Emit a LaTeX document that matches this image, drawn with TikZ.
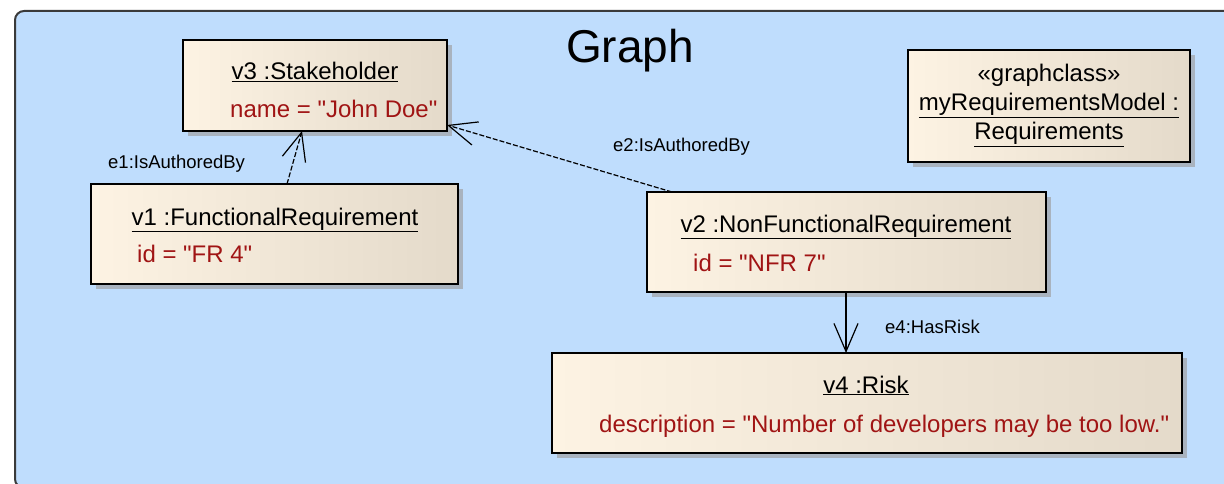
\documentclass[tikz,border=0pt]{standalone}
\usepackage{fontspec}
\setmainfont{Liberation Sans}
% a family without the TeX ligature mapping, so that " stays a straight quote
\newfontfamily\umlfont{Liberation Sans}
\usetikzlibrary{arrows.meta,shadows}

\definecolor{frameblue}{HTML}{BFDDFD}
\definecolor{framegray}{HTML}{3A3A3A}
\definecolor{boxL}{HTML}{FDF3E3}
\definecolor{boxR}{HTML}{E4DACA}
\definecolor{shadowc}{HTML}{A9B3BF}
\definecolor{attrred}{HTML}{A01414}

\tikzset{
  umlbox/.style={draw=black, line width=1.4pt, left color=boxL, right color=boxR,
    shading angle=90, inner sep=0pt, outer sep=0pt, anchor=north west,
    drop shadow={shadow xshift=5pt, shadow yshift=-5pt, fill=shadowc, opacity=1}},
  title/.style={inner sep=0pt, anchor=base, font=\umlfont\fontsize{24}{28}\selectfont},
  attr/.style={inner sep=0pt, anchor=base west, text=attrred, font=\umlfont\fontsize{24}{28}\selectfont},
  elabel/.style={inner sep=0pt, anchor=base west, font=\umlfont\fontsize{18.5}{22}\selectfont},
  link/.style={line width=1.2pt, draw=black,
    -{Straight Barb[length=28pt, width=24pt, line width=1.2pt]}},
  dep/.style={link, dash pattern=on 5pt off 2pt}
}

\begin{document}
\begin{tikzpicture}[x=1pt, y=-1pt]
  \useasboundingbox (0,0) rectangle (1224,484);
  \clip (0,0) rectangle (1224,484);

  % enclosing graph frame
  \draw[fill=frameblue, draw=framegray, line width=2pt, rounded corners=9pt]
    (15,11) rectangle (1260,488);
  \node[inner sep=0pt, anchor=base west, font=\umlfont\fontsize{46}{50}\selectfont] (gtitle) at (566,63) {Graph};

  % vertices
  \node[umlbox, minimum width=264pt, minimum height=91pt]  (v3) at (183,40)  {};
  \node[umlbox, minimum width=367pt, minimum height=100pt] (v1) at (91,184)  {};
  \node[umlbox, minimum width=399pt, minimum height=100pt] (v2) at (647,192) {};
  \node[umlbox, minimum width=630pt, minimum height=100pt] (v4) at (552,353) {};
  \node[umlbox, minimum width=282pt, minimum height=112pt] (gc) at (908,50)  {};

  \node[title] (v3t) at (315,80)  {\underline{v3 :Stakeholder}};
  \node[attr]  (v3a) at (230,118) {name = "John Doe"};

  \node[title] (v1t) at (275,225) {\underline{v1 :FunctionalRequirement}};
  \node[attr]  (v1a) at (137,262) {id = "FR 4"};

  \node[title] (v2t) at (846,232) {\underline{v2 :NonFunctionalRequirement}};
  \node[attr]  (v2a) at (693,271) {id = "NFR 7"};

  \node[title] (v4t) at (866,393) {\underline{v4 :Risk}};
  \node[attr]  (v4a) at (599,432) {description = "Number of developers may be too low."};

  \node[title] (gc1) at (1049,82)  {«graphclass»};
  \node[title] (gc2) at (1049,111) {\underline{myRequirementsModel :}};
  \node[title] (gc3) at (1049,140) {\underline{Requirements}};

  % edges
  \draw[dep]  ([xshift=196pt]v1.north west) -- ([xshift=119pt]v3.south west);
  \draw[dep]  ([xshift=25pt]v2.north west) -- ([yshift=-85pt]v3.north east);
  \draw[link] ([xshift=199pt]v2.south west) -- ([xshift=294pt]v4.north west);

  \node[elabel] (e1) at (108,168) {e1:IsAuthoredBy};
  \node[elabel] (e2) at (613,152) {e2:IsAuthoredBy};
  \node[elabel] (e4) at (885,333) {e4:HasRisk};
\end{tikzpicture}
\end{document}
